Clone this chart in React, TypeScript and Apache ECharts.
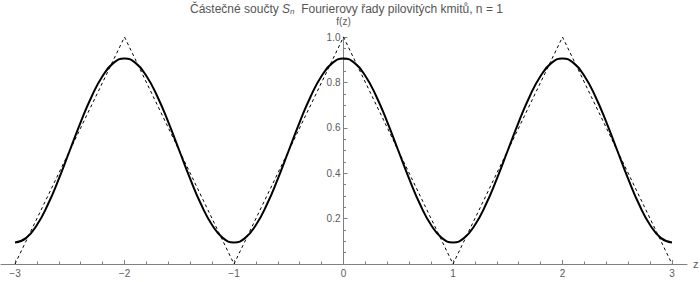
import React, { useEffect, useRef } from "react";
import * as echarts from "echarts";

const zGrid = [
  -3, -2.9, -2.8, -2.7, -2.6, -2.5, -2.4, -2.3, -2.2, -2.1,
  -2, -1.9, -1.8, -1.7, -1.6, -1.5, -1.4, -1.3, -1.2, -1.1,
  -1, -0.9, -0.8, -0.7, -0.6, -0.5, -0.4, -0.3, -0.2, -0.1,
  0, 0.1, 0.2, 0.3, 0.4, 0.5, 0.6, 0.7, 0.8, 0.9,
  1, 1.1, 1.2, 1.3, 1.4, 1.5, 1.6, 1.7, 1.8, 1.9,
  2, 2.1, 2.2, 2.3, 2.4, 2.5, 2.6, 2.7, 2.8, 2.9, 3,
];

const partialSum = [
  0.095, 0.114, 0.172, 0.262, 0.375, 0.5, 0.625, 0.738, 0.828, 0.886,
  0.905, 0.886, 0.828, 0.738, 0.625, 0.5, 0.375, 0.262, 0.172, 0.114,
  0.095, 0.114, 0.172, 0.262, 0.375, 0.5, 0.625, 0.738, 0.828, 0.886,
  0.905, 0.886, 0.828, 0.738, 0.625, 0.5, 0.375, 0.262, 0.172, 0.114,
  0.095, 0.114, 0.172, 0.262, 0.375, 0.5, 0.625, 0.738, 0.828, 0.886,
  0.905, 0.886, 0.828, 0.738, 0.625, 0.5, 0.375, 0.262, 0.172, 0.114, 0.095,
];

const triangleZ = [-3, -2, -1, 0, 1, 2, 3];
const triangleF = [0, 1, 0, 1, 0, 1, 0];

const xMajorTicks = [-3, -2, -1, 0, 1, 2, 3];
const xMinorTicks = [
  -2.8, -2.6, -2.4, -2.2, -1.8, -1.6, -1.4, -1.2, -0.8, -0.6, -0.4, -0.2,
  0.2, 0.4, 0.6, 0.8, 1.2, 1.4, 1.6, 1.8, 2.2, 2.4, 2.6, 2.8,
];

const FONT = "'Liberation Sans', Arial, sans-serif";
const AXIS_COLOR = "#808080";
const LABEL_COLOR = "#5a5a5a";
const TITLE_COLOR = "#555555";

export default function App() {
  const ref = useRef<HTMLDivElement>(null);

  useEffect(() => {
    if (!ref.current) return;
    const chart = echarts.init(ref.current, undefined, { renderer: "svg" });
    const xMin = -3.128;
    const xMax = 3.137;
    const gridLeft = 1;
    const gridRight = 13;
    const plotWidth = 700 - gridLeft - gridRight;
    const yAxisOffset = -((0 - xMin) / (xMax - xMin)) * plotWidth;
    chart.setOption({
      animation: false,
      backgroundColor: "#ffffff",
      title: {
        text: "{a|Částečné součty }{s|S}{n|n}{a|  Fourierovy řady pilovitých kmitů, n = 1}",
        left: 185,
        top: -3,
        textStyle: {
          fontWeight: "normal",
          rich: {
            a: { fontFamily: FONT, fontSize: 12, color: TITLE_COLOR, fontWeight: "normal" },
            s: {
              fontFamily: FONT,
              fontSize: 12,
              color: TITLE_COLOR,
              fontStyle: "italic",
              fontWeight: "normal",
            },
            n: {
              fontFamily: FONT,
              fontSize: 8,
              color: TITLE_COLOR,
              fontStyle: "italic",
              fontWeight: "normal",
              padding: [5, 0, 0, 0],
            },
          },
        },
      },
      grid: {
        left: gridLeft,
        right: gridRight,
        top: 37,
        bottom: 18,
        containLabel: false,
        outerBoundsMode: "none",
      },
      xAxis: [
        {
          type: "value",
          min: xMin,
          max: xMax,
          name: "z",
          nameLocation: "end",
          nameGap: 6,
          nameTextStyle: { fontFamily: FONT, fontSize: 11, color: LABEL_COLOR },
          axisLine: { show: true, onZero: false, lineStyle: { color: AXIS_COLOR, width: 1 } },
          axisTick: {
            show: true,
            inside: true,
            length: 4,
            customValues: xMajorTicks,
            lineStyle: { color: AXIS_COLOR },
          },
          axisLabel: {
            show: true,
            customValues: xMajorTicks,
            margin: 4,
            fontFamily: FONT,
            fontSize: 10,
            color: LABEL_COLOR,
            formatter: (v: number) => String(v).replace("-", "\u2212"),
          },
          splitLine: { show: false },
        },
        {
          type: "value",
          min: xMin,
          max: xMax,
          position: "bottom",
          axisLine: { show: false, onZero: false },
          axisTick: {
            show: true,
            inside: true,
            length: 2.5,
            customValues: xMinorTicks,
            lineStyle: { color: AXIS_COLOR },
          },
          axisLabel: { show: false },
          splitLine: { show: false },
        },
      ],
      yAxis: {
        type: "value",
        position: "left",
        offset: yAxisOffset,
        min: 0,
        max: 1,
        interval: 0.2,
        name: "f(z)",
        nameLocation: "end",
        nameGap: 11,
        nameTextStyle: { fontFamily: FONT, fontSize: 10, color: LABEL_COLOR },
        axisLine: {
          show: true,
          onZero: false,
          lineStyle: { color: AXIS_COLOR, width: 1 },
        },
        axisTick: { show: true, inside: true, length: 4, lineStyle: { color: AXIS_COLOR } },
        minorTick: { show: true, splitNumber: 4, length: 2.5, lineStyle: { color: AXIS_COLOR } },
        axisLabel: {
          show: true,
          margin: 3,
          fontFamily: FONT,
          fontSize: 10,
          color: LABEL_COLOR,
          formatter: (v: number) => (v === 0 ? "" : v.toFixed(1)),
        },
        splitLine: { show: false },
        minorSplitLine: { show: false },
      },
      series: [
        {
          type: "line",
          xAxisIndex: 0,
          data: triangleZ.map((z, i) => [z, triangleF[i]]),
          showSymbol: false,
          clip: false,
          lineStyle: { color: "#000000", width: 1, type: [3, 3] },
          z: 2,
        },
        {
          type: "line",
          xAxisIndex: 0,
          data: zGrid.map((z, i) => [z, partialSum[i]]),
          smooth: true,
          showSymbol: false,
          lineStyle: { color: "#000000", width: 2 },
          z: 3,
        },
      ],
    });
    return () => chart.dispose();
  }, []);

  return (
    <div
      ref={ref}
      style={{ position: "absolute", left: 0, top: 0, width: 700, height: 282 }}
    />
  );
}
